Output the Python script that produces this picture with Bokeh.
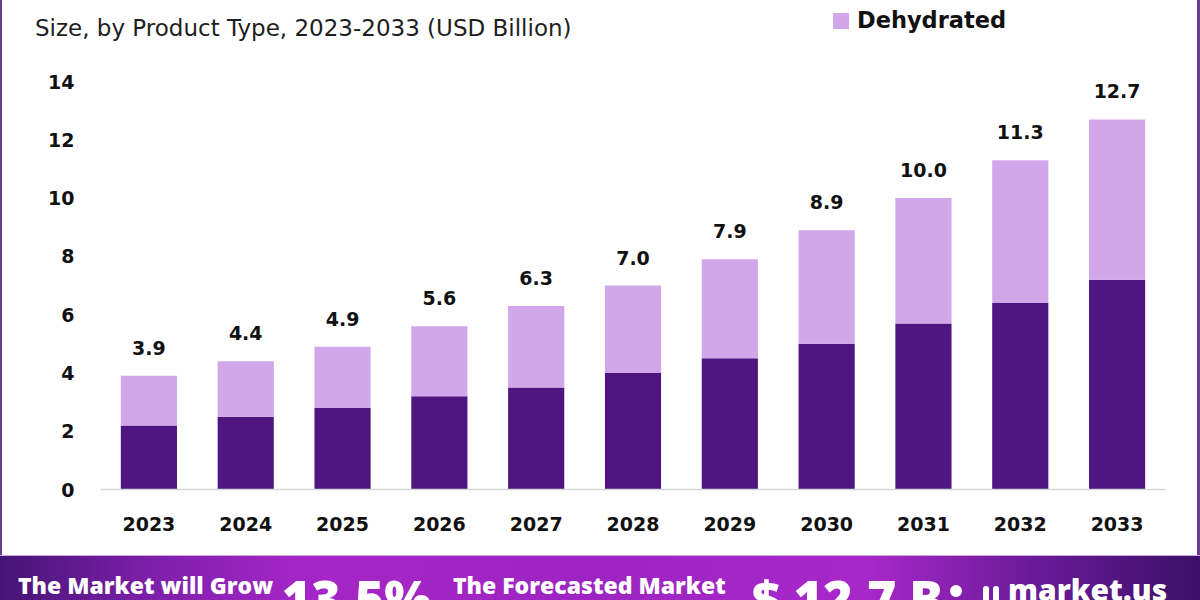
from bokeh.plotting import figure
from bokeh.models import ColumnDataSource, Range1d, LabelSet, Div
from bokeh.layouts import column, row
from bokeh.core.properties import value
from bokeh.embed import file_html
from bokeh.resources import INLINE

years = ["2023", "2024", "2025", "2026", "2027", "2028", "2029", "2030", "2031", "2032", "2033"]
totals = [3.9, 4.4, 4.9, 5.6, 6.3, 7.0, 7.9, 8.9, 10.0, 11.3, 12.7]
other_types = [2.2, 2.5, 2.8, 3.2, 3.5, 4.0, 4.5, 5.0, 5.7, 6.4, 7.2]
dehydrated = [round(t - o, 1) for t, o in zip(totals, other_types)]
total_labels = ["%.1f" % t for t in totals]
y_ticks = [0, 2, 4, 6, 8, 10, 12, 14]

title_text = "Size, by Product Type, 2023-2033 (USD Billion)"
legend_label = "Dehydrated"
banner_grow_text = "The Market will Grow"
banner_cagr = "13.5%"
banner_fore_text = "The Forecasted Market"
banner_value = "$ 12.7 B"
brand = "market.us"

DARK = "#4f1682"
LIGHT = "#d1a7ea"
FRAME = "#6d3b8e"
FONT = "DejaVu Sans"

src = ColumnDataSource(dict(year=years, other_types=other_types, dehydrated=dehydrated,
                            total=totals, label=total_labels))

# ---- top strip: title + legend (real text) ----
top_html = f"""
<div style="position:relative;width:1200px;height:70px;overflow:hidden;background:#ffffff;font-family:'{FONT}';">
 <div style="position:absolute;left:0px;top:0;width:2px;height:70px;background:{FRAME};"></div>
 <div style="position:absolute;left:1197px;top:0;width:3px;height:70px;background:{FRAME};"></div>
 <span style="position:absolute;left:35px;top:17px;font-size:23px;line-height:1;color:#1e1e1e;white-space:nowrap;">{title_text}</span>
 <span style="position:absolute;left:833px;top:13px;width:16px;height:16px;background:{LIGHT};"></span>
 <span style="position:absolute;left:857px;top:9px;font-size:22.5px;font-weight:bold;line-height:1;color:#111;white-space:nowrap;">{legend_label}</span>
</div>
"""
top_div = Div(text=top_html, width=1200, height=70, margin=0)

# ---- chart ----
p = figure(x_range=years, y_range=Range1d(0, 14.0 * (486 - 67) / 408), width=1194, height=485,
           output_backend="svg", toolbar_location=None,
           min_border_left=98, min_border_right=31, min_border_top=0, min_border_bottom=66)
p.outline_line_color = None
p.background_fill_color = "white"
p.border_fill_color = "white"
p.xgrid.grid_line_color = None
p.ygrid.grid_line_color = None

p.vbar_stack(["other_types", "dehydrated"], x="year", width=0.58, source=src,
             color=[DARK, LIGHT], line_color=None)

labels = LabelSet(x="year", y="total", text="label", source=src, y_offset=21,
                  text_align="center", text_baseline="alphabetic", text_font=value(FONT),
                  text_font_size="19px", text_font_style="bold", text_color="#111111")
p.add_layout(labels)

p.yaxis.ticker = y_ticks
p.yaxis.axis_line_color = None
p.yaxis.major_tick_line_color = None
p.yaxis.minor_tick_line_color = None
p.yaxis.major_tick_out = 0
p.yaxis.major_label_standoff = 26
p.yaxis.major_label_text_font = FONT
p.yaxis.major_label_text_font_size = "19px"
p.yaxis.major_label_text_font_style = "bold"
p.yaxis.major_label_text_color = "#111111"

p.xaxis.axis_line_color = "#d6d6d6"
p.xaxis.axis_line_width = 1.5
p.xaxis.major_tick_line_color = None
p.xaxis.minor_tick_line_color = None
p.xaxis.major_tick_out = 0
p.xaxis.major_label_standoff = 27
p.xaxis.major_label_text_font = FONT
p.xaxis.major_label_text_font_size = "19px"
p.xaxis.major_label_text_font_style = "bold"
p.xaxis.major_label_text_color = "#111111"

def strip(w, color):
    return Div(text="", width=w, height=485, margin=0, styles={"background-color": color})

middle = row(strip(2, FRAME), p, strip(1, "#ffffff"), strip(3, FRAME), spacing=0)

banner_html = f"""
<div style="position:relative;width:1200px;height:45px;overflow:hidden;box-sizing:border-box;
 border-top:1px solid #cfa9e0;
 background:linear-gradient(90deg,#451475 0%,#7a1fa8 12%,#a526c6 25%,#9d24c2 50%,#a828c9 72%,#6a1b98 86%,#3b1068 100%);
 font-family:'Open Sans';font-weight:800;color:#ffffff;">
 <span style="position:absolute;left:18px;top:18px;font-size:23px;line-height:1;white-space:nowrap;">{banner_grow_text}</span>
 <span style="position:absolute;left:282px;top:17px;font-size:50px;line-height:1;white-space:nowrap;">{banner_cagr}</span>
 <span style="position:absolute;left:453px;top:18px;font-size:23px;line-height:1;white-space:nowrap;">{banner_fore_text}</span>
 <span style="position:absolute;left:752px;top:17px;font-size:50px;line-height:1;white-space:nowrap;">{banner_value}</span>
 <span style="position:absolute;left:950px;top:29px;width:12px;height:12px;border:6px solid #fff;border-radius:50%;"></span>
 <span style="position:absolute;left:983px;top:30px;width:6px;height:30px;border-radius:3px;background:#fff;"></span>
 <span style="position:absolute;left:993px;top:30px;width:6px;height:30px;border-radius:3px;background:#fff;"></span>
 <span style="position:absolute;left:1008px;top:19px;font-size:30px;line-height:1;white-space:nowrap;">{brand}</span>
</div>
"""
banner = Div(text=banner_html, width=1200, height=45, margin=0)

layout = column(top_div, middle, banner, spacing=0)
open("out.html", "w").write(file_html(layout, INLINE))
